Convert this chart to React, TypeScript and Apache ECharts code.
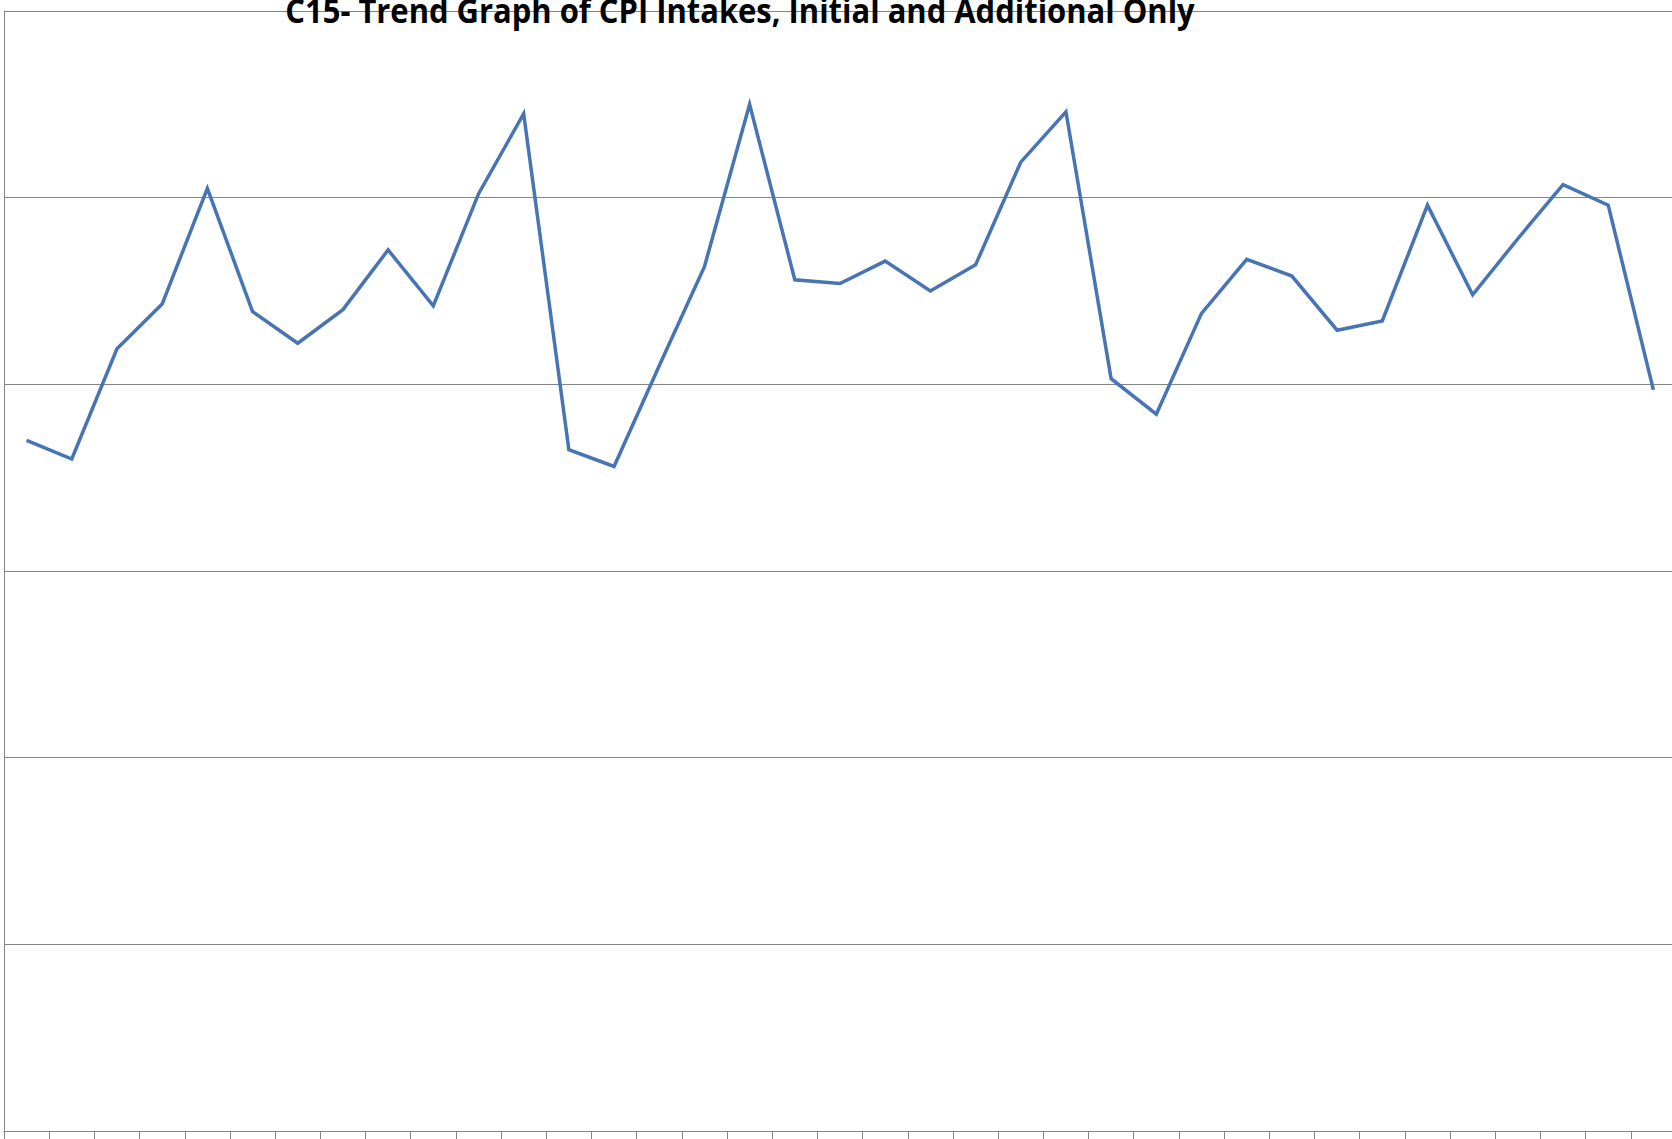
import React, { useEffect, useRef } from "react";
import * as echarts from "echarts";

const TITLE = "C15- Trend Graph of CPI Intakes, Initial and Additional Only";

const categories = [
  "1", "2", "3", "4", "5", "6", "7", "8", "9", "10",
  "11", "12", "13", "14", "15", "16", "17", "18", "19", "20",
  "21", "22", "23", "24", "25", "26", "27", "28", "29", "30",
  "31", "32", "33", "34", "35", "36", "37",
];

const intakes = [
  37.0, 36.0, 41.9, 44.3, 50.5, 43.9, 42.2, 44.0, 47.2, 44.2,
  50.2, 54.5, 36.5, 35.6, 41.0, 46.3, 55.0, 45.6, 45.4, 46.6,
  45.0, 46.4, 51.9, 54.6, 40.3, 38.4, 43.8, 46.7, 45.8, 42.9,
  43.4, 49.6, 44.8, 47.8, 50.7, 49.6, 39.7,
];

const Y_MIN = 0;
const Y_MAX = 60;
const Y_STEP = 10;

export default function App() {
  const ref = useRef<HTMLDivElement>(null);

  useEffect(() => {
    if (!ref.current) return;
    const chart = echarts.init(ref.current, undefined, { renderer: "svg" });

    const titleFont = "bold 34px 'Open Sans', sans-serif";
    let scaleX = 1;
    try {
      const ctx = document.createElement("canvas").getContext("2d");
      if (ctx) {
        ctx.font = titleFont;
        const w = ctx.measureText(TITLE).width;
        if (w > 0) scaleX = 910 / w;
      }
    } catch (e) {
      scaleX = 1;
    }

    chart.setOption({
      animation: false,
      backgroundColor: "#ffffff",
      grid: { left: 4, right: 4, top: 11, bottom: 8, containLabel: false },
      xAxis: {
        type: "category",
        data: categories,
        boundaryGap: true,
        axisLine: { show: true, lineStyle: { color: "#858585", width: 1 } },
        axisTick: { show: true, length: 8, lineStyle: { color: "#858585" } },
        axisLabel: { show: false },
        splitLine: { show: false },
      },
      yAxis: {
        type: "value",
        min: Y_MIN,
        max: Y_MAX,
        interval: Y_STEP,
        axisLine: { show: true, lineStyle: { color: "#858585", width: 1 } },
        axisTick: { show: false },
        axisLabel: { show: false },
        splitLine: { show: true, lineStyle: { color: "#858585", width: 1 } },
      },
      series: [
        {
          type: "line",
          data: intakes,
          symbol: "none",
          lineStyle: { color: "#4775b4", width: 3.5, join: "miter" },
          z: 3,
        },
      ],
      graphic: [
        {
          type: "text",
          x: 740,
          y: 10,
          scaleX: scaleX,
          z: 1,
          style: {
            text: TITLE,
            x: 0,
            y: 0,
            align: "center",
            verticalAlign: "middle",
            font: titleFont,
            fill: "#000000",
          },
        },
      ],
    });

    return () => chart.dispose();
  }, []);

  return (
    <div
      ref={ref}
      style={{ position: "fixed", left: 0, top: 0, width: 1680, height: 1139 }}
    />
  );
}
